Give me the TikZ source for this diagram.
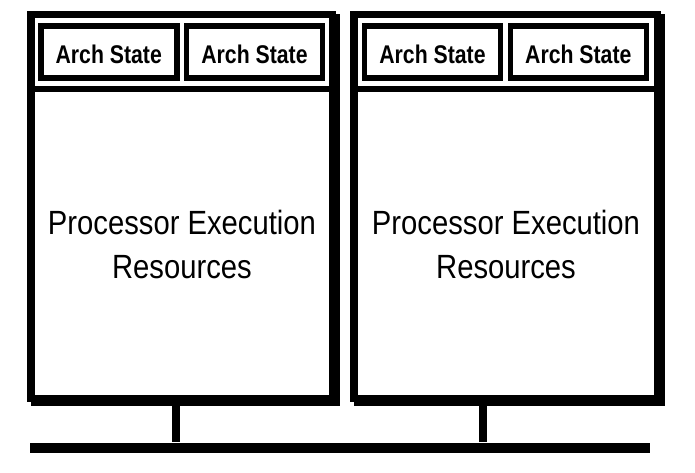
\documentclass[tikz,border=0pt]{standalone}
\usepackage{fontspec}
\newfontfamily\archfont{Liberation Sans}[FakeStretch=0.83]
\newfontfamily\bigfont{Liberation Sans}[FakeStretch=0.87]
\begin{document}
\begin{tikzpicture}[x=0.75pt,y=-0.75pt,
  procbox/.style={draw=black, fill=white, line width=5.625pt, inner sep=0pt,
     minimum height=287.625pt,
     preaction={draw=black, line width=5.625pt,
       transform canvas={shift={(2.625pt,-2.625pt)}}}},
  archbox/.style={draw=black, fill=white, line width=4.125pt, inner sep=0pt,
     minimum width=102pt, minimum height=39pt, text height=16.6pt, text depth=0pt,
     font=\archfont\bfseries\fontsize{19.2pt}{22pt}\selectfont},
  bigtext/.style={align=center, inner sep=0pt,
     font=\bigfont\fontsize{25.2pt}{33pt}\selectfont},
  busbar/.style={fill=black, inner sep=0pt, minimum width=465pt, minimum height=7.5pt},
  stemline/.style={line width=5.625pt},
  sepline/.style={line width=4.5pt}
]
\useasboundingbox (0,0) rectangle (695,473);
\fill[white] (0,0) rectangle (695,473);

% processor frames
\node[procbox, minimum width=226.125pt] (p1) at (181.5,206.5) {};
\node[procbox, minimum width=227.625pt] (p2) at (505.5,206.5) {};

% separators under the arch-state row
\coordinate (sepy) at (0,89);
\draw[sepline] (p1.west |- sepy) -- (p1.east |- sepy);
\draw[sepline] (p2.west |- sepy) -- (p2.east |- sepy);

% arch state boxes
\node[archbox] (a1) at (108.75,52.25) {Arch State};
\node[archbox] (a2) at (254.5,52.25) {Arch State};
\node[archbox] (a3) at (432.5,52.25) {Arch State};
\node[archbox] (a4) at (578.3,52.25) {Arch State};

% execution resources text
\node[bigtext] (t1) at (182,244) {Processor Execution\\Resources};
\node[bigtext] (t2) at (506,244) {Processor Execution\\Resources};

% bus and stems
\node[busbar] (bus) at (340,447.7) {};
\coordinate (s1) at (176,0);
\coordinate (s2) at (483,0);
\draw[stemline] (p1.south -| s1) -- (bus.north -| s1);
\draw[stemline] (p2.south -| s2) -- (bus.north -| s2);
\end{tikzpicture}
\end{document}
